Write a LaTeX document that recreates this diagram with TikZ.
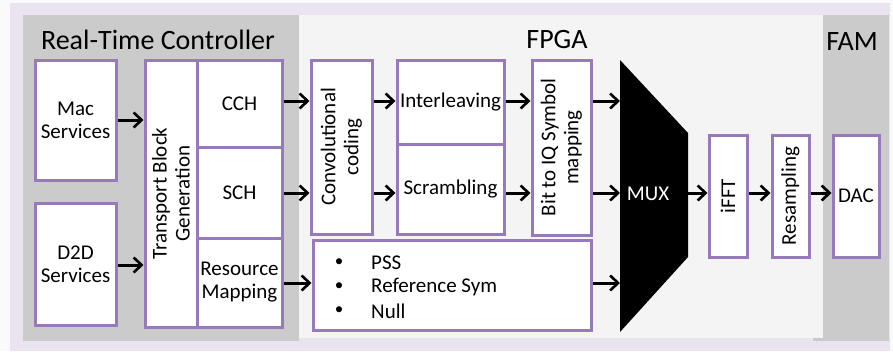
\documentclass[tikz,border=0pt]{standalone}
\usepackage{fontspec}
\setmainfont{Carlito}
\usetikzlibrary{arrows.meta}
\definecolor{pagebg}{RGB}{250,250,252}
\definecolor{lav}{RGB}{234,228,241}
\definecolor{ctrlgray}{RGB}{203,203,203}
\definecolor{fpgabg}{RGB}{244,244,244}
\definecolor{boxline}{RGB}{150,122,188}
\tikzset{
  lbl/.style={font=\fontsize{21}{23}\selectfont},
  blk/.style={draw=boxline, line width=3pt, fill=white, lbl, align=center, inner sep=0pt},
  vtext/.style={rotate=90, align=center, lbl},
  arr/.style={-{Straight Barb[length=8pt,width=15pt,line width=2.6pt]}, line width=3pt},
  title/.style={font=\fontsize{28}{30}\selectfont}
}
\begin{document}
\begin{tikzpicture}[x=1pt,y=-1pt]
\useasboundingbox (0,0) rectangle (893,351);
% backdrop panels
\fill[pagebg] (0,0) rectangle (893,351);
\fill[lav] (10,3) rectangle (890,351);
\fill[ctrlgray] (23,15) rectangle (299,341);
\fill[ctrlgray] (813,15) rectangle (889,341);
\fill[fpgabg] (299,15) rectangle (823,338);
% panel titles
\node[title] (trtc) at (158,40) {Real-Time Controller};
\node[title] (tfpga) at (557,40) {FPGA};
\node[title] (tfam) at (852,42) {FAM};
% arrow rows
\coordinate (rA) at (0,101);
\coordinate (rB) at (0,193);
\coordinate (rC) at (0,283);
% controller blocks
\node[blk, minimum width=81pt, minimum height=120pt] (mac) at (75.5,120) {Mac\\Services};
\node[blk, minimum width=81pt, minimum height=122pt] (d2d) at (75.5,264) {D2D\\Services};
\node[blk, minimum width=52pt, minimum height=267pt] (tbg) at (171,193.5) {};
\node[vtext] at (tbg) {Transport Block\\Generation};
\node[blk, minimum width=85pt, minimum height=87pt] (cch) at (239.5,103.5) {CCH};
\node[blk, minimum width=85pt, minimum height=91pt] (sch) at (239.5,192.5) {SCH};
\node[blk, minimum width=85pt, minimum height=89pt] (rm) at (239.5,282.5) {Resource\\Mapping};
% FPGA blocks
\node[blk, minimum width=61pt, minimum height=174pt] (conv) at (341.5,147) {};
\node[vtext] at (conv) {Convolutional\\coding};
\node[blk, minimum width=107pt, minimum height=84pt] (intl) at (450.5,102) {Interleaving};
\node[blk, minimum width=107pt, minimum height=90pt] (scr) at (450.5,189) {Scrambling};
\node[blk, minimum width=59pt, minimum height=175pt] (biq) at (561.5,147.5) {};
\node[vtext] at (biq) {Bit to IQ Symbol\\mapping};
\node[blk, minimum width=278pt, minimum height=90pt] (pss) at (452,285) {};
\node[font=\fontsize{17}{19}\selectfont] (b1) at (339,263) {\textbullet};
\node[font=\fontsize{17}{19}\selectfont] (b2) at (339,287) {\textbullet};
\node[font=\fontsize{17}{19}\selectfont] (b3) at (339,311) {\textbullet};
\node[lbl, anchor=west, inner sep=0pt] (t1) at (371,263) {PSS};
\node[lbl, anchor=west, inner sep=0pt] (t2) at (371,287) {Reference Sym};
\node[lbl, anchor=west, inner sep=0pt] (t3) at (371,311) {Null};
% multiplexer
\fill[black] (620,60) -- (688,133) -- (688,257) -- (620,332) -- cycle;
\node[lbl, text=white] (mux) at (648,194) {MUX};
\coordinate (muxA) at (620,101);
\coordinate (muxB) at (620,193);
\coordinate (muxC) at (620,283);
\coordinate (muxout) at (688,193);
% back end
\node[blk, minimum width=38pt, minimum height=122pt] (ifft) at (728,196) {};
\node[vtext] at (ifft) {iFFT};
\node[blk, minimum width=37pt, minimum height=122pt] (resamp) at (790.5,196) {};
\node[vtext] at (resamp) {Resampling};
\node[blk, minimum width=46pt, minimum height=122pt] (dac) at (856,196) {DAC};
% connectors
\draw[arr] (mac.east) -- (tbg.west |- mac.east);
\draw[arr] (d2d.east |- 0,265) -- (tbg.west |- 0,265);
\draw[arr] (cch.east |- rA) -- (conv.west |- rA);
\draw[arr] (sch.east |- rB) -- (conv.west |- rB);
\draw[arr] (conv.east |- rA) -- (intl.west |- rA);
\draw[arr] (conv.east |- rB) -- (scr.west |- rB);
\draw[arr] (intl.east |- rA) -- (biq.west |- rA);
\draw[arr] (scr.east |- rB) -- (biq.west |- rB);
\draw[arr] (biq.east |- rA) -- (muxA);
\draw[arr] (biq.east |- rB) -- (muxB);
\draw[arr] (rm.east |- rC) -- (pss.west |- rC);
\draw[arr] (pss.east |- rC) -- (muxC);
\draw[arr] (muxout) -- (ifft.west |- rB);
\draw[arr] (ifft.east |- rB) -- (resamp.west |- rB);
\draw[arr] (resamp.east |- rB) -- (dac.west |- rB);
\end{tikzpicture}
\end{document}
